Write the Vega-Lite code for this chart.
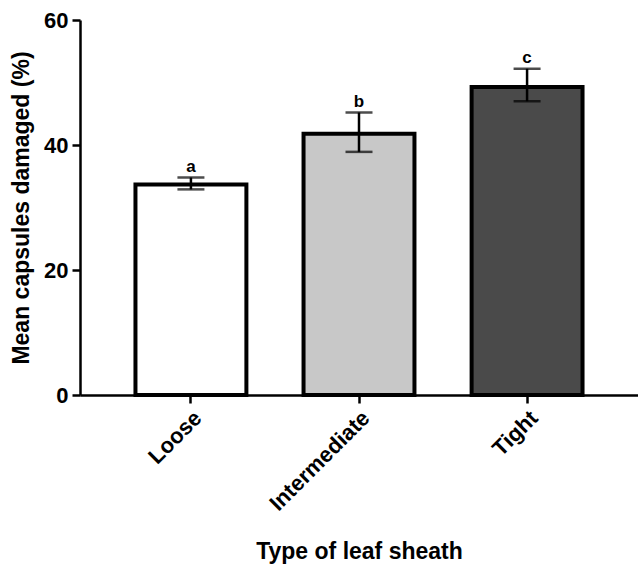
{
  "$schema": "https://vega.github.io/schema/vega-lite/v6.json",
  "autosize": "none",
  "width": 558,
  "height": 375,
  "padding": {"left": 80, "top": 20, "right": 0, "bottom": 172},
  "background": "white",
  "config": {
    "view": {"stroke": null},
    "font": "Liberation Sans",
    "axis": {
      "domainColor": "black",
      "domainWidth": 2.5,
      "tickColor": "black",
      "tickWidth": 2.5,
      "tickSize": 8,
      "grid": false,
      "labelFont": "Liberation Sans",
      "labelFontWeight": "bold",
      "labelFontSize": 22,
      "labelColor": "black",
      "titleFont": "Liberation Sans",
      "titleFontWeight": "bold",
      "titleFontSize": 23,
      "titleColor": "black"
    }
  },
  "data": {
    "values": [
      {"type": "Loose", "mean": 33.7, "low": 32.9, "high": 34.8, "letter": "a", "fill": "Loose"},
      {"type": "Intermediate", "mean": 41.8, "low": 38.9, "high": 45.2, "letter": "b", "fill": "Intermediate"},
      {"type": "Tight", "mean": 49.3, "low": 47.0, "high": 52.2, "letter": "c", "fill": "Tight"}
    ]
  },
  "encoding": {
    "x": {
      "field": "type",
      "type": "nominal",
      "sort": ["Loose", "Intermediate", "Tight"],
      "scale": {"paddingInner": 0.34, "paddingOuter": 0.33},
      "axis": {"labelAngle": -45, "title": "Type of leaf sheath", "titlePadding": 26, "labelPadding": 4}
    }
  },
  "layer": [
    {
      "mark": {"type": "bar", "stroke": "black", "strokeWidth": 4},
      "encoding": {
        "y": {
          "field": "mean",
          "type": "quantitative",
          "scale": {"domain": [0, 60]},
          "axis": {"values": [0, 20, 40, 60], "title": "Mean capsules damaged (%)", "titlePadding": 10, "labelPadding": 4}
        },
        "fill": {
          "field": "fill",
          "type": "nominal",
          "scale": {"domain": ["Loose", "Intermediate", "Tight"], "range": ["#ffffff", "#c8c8c8", "#4a4a4a"]},
          "legend": null
        }
      }
    },
    {
      "mark": {"type": "rule", "color": "black", "strokeWidth": 2.5},
      "encoding": {
        "y": {"field": "low", "type": "quantitative"},
        "y2": {"field": "high"}
      }
    },
    {
      "mark": {"type": "tick", "color": "black", "thickness": 2.5, "size": 27},
      "encoding": {"y": {"field": "low", "type": "quantitative"}}
    },
    {
      "mark": {"type": "tick", "color": "black", "thickness": 2.5, "size": 27},
      "encoding": {"y": {"field": "high", "type": "quantitative"}}
    },
    {
      "mark": {"type": "text", "font": "Liberation Sans", "fontWeight": "bold", "fontSize": 17, "color": "black", "dy": -2, "baseline": "bottom"},
      "encoding": {
        "y": {"field": "high", "type": "quantitative"},
        "text": {"field": "letter"}
      }
    }
  ]
}
